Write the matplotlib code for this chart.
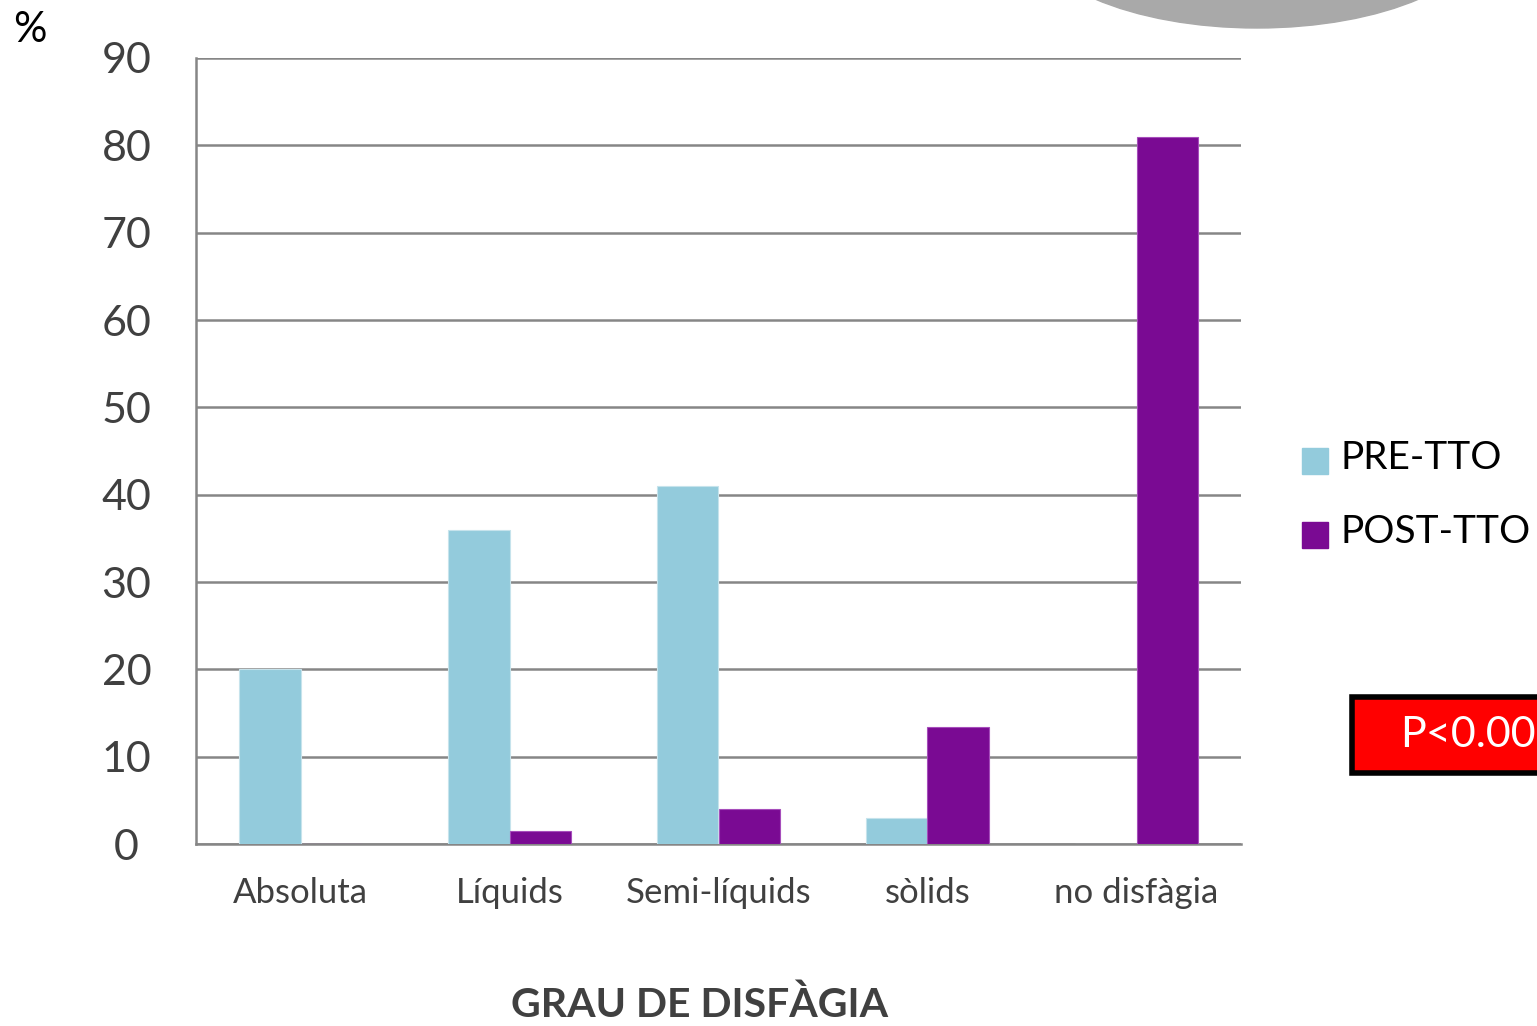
import numpy as np
import matplotlib.pyplot as plt
from matplotlib.patches import Ellipse, Rectangle

plt.rcParams['font.family'] = ['Lato', 'DejaVu Sans']

categories = ['Absoluta', 'Líquids', 'Semi-líquids', 'sòlids', 'no disfàgia']
pre_tto = [20, 36, 41, 3, 0]
post_tto = [0, 1.5, 4, 13.4, 81]
series_names = ['PRE-TTO', 'POST-TTO']
series_colors = ['#93CBDC', '#7A0A93']
yticks = [0, 10, 20, 30, 40, 50, 60, 70, 80, 90]

W, H = 1537, 1026
fig = plt.figure(figsize=(W / 100, H / 100), dpi=100)

# grey shape cut off at the top
fig.patches.append(Ellipse((1257 / W, 1 - (-72) / H), 460 / W, 200 / H,
                           transform=fig.transFigure, color='#A9A9A9', zorder=0))

ax = fig.add_axes([196 / W, 1 - 844 / H, 1045 / W, (844 - 58) / H])
x = np.arange(len(categories))
bw = 0.292
ax.bar(x - bw / 2, pre_tto, bw, color=series_colors[0], edgecolor='#C6E3EC', linewidth=0.8, zorder=3)
ax.bar(x + bw / 2, post_tto, bw, color=series_colors[1], edgecolor='#A64DBB', linewidth=0.8, zorder=3)

ax.set_xlim(-0.5, len(categories) - 0.5)
ax.set_ylim(0, 90)
ax.set_yticks(yticks)
ax.set_xticks(x)
ax.set_xticklabels(categories, fontsize=25, color='#404040')
ax.tick_params(axis='y', labelsize=31, labelcolor='#404040', length=0, pad=50)
ax.tick_params(axis='x', length=0, pad=24)
for lbl in ax.get_yticklabels():
    lbl.set_horizontalalignment('center')
ax.grid(axis='y', color='#868686', linewidth=1.8, zorder=0)
for s in ['top', 'right']:
    ax.spines[s].set_visible(False)
ax.spines['left'].set_color('#868686')
ax.spines['left'].set_linewidth(1.8)
ax.spines['bottom'].set_color('#868686')
ax.spines['bottom'].set_linewidth(1.8)

fig.text(700 / W, 1 - 1005 / H, 'GRAU DE DISFÀGIA', fontsize=29.5, fontweight='bold',
         color='#404040', ha='center', va='center')
fig.text(30 / W, 1 - 30 / H, '%', fontsize=30, color='black', ha='center', va='center')

# legend: small squares + labels
for i, (name, col) in enumerate(zip(series_names, series_colors)):
    yc = 461 + i * 74
    fig.patches.append(Rectangle((1302 / W, 1 - (yc + 13) / H), 26 / W, 26 / H,
                                 transform=fig.transFigure, color=col))
    fig.text(1341 / W, 1 - (yc - 3) / H, name, fontsize=28, color='black',
             ha='left', va='center')

# p-value box, runs off the right edge
fig.patches.append(Rectangle((1352 / W, 1 - 773 / H), 300 / W, 76 / H,
                             transform=fig.transFigure, facecolor='#FF0000',
                             edgecolor='black', linewidth=4, zorder=5))
fig.text(1400 / W, 1 - 735 / H, 'P<0.00', fontsize=31, color='white',
         ha='left', va='center', zorder=6)

plt.savefig('out.png', dpi=100)
